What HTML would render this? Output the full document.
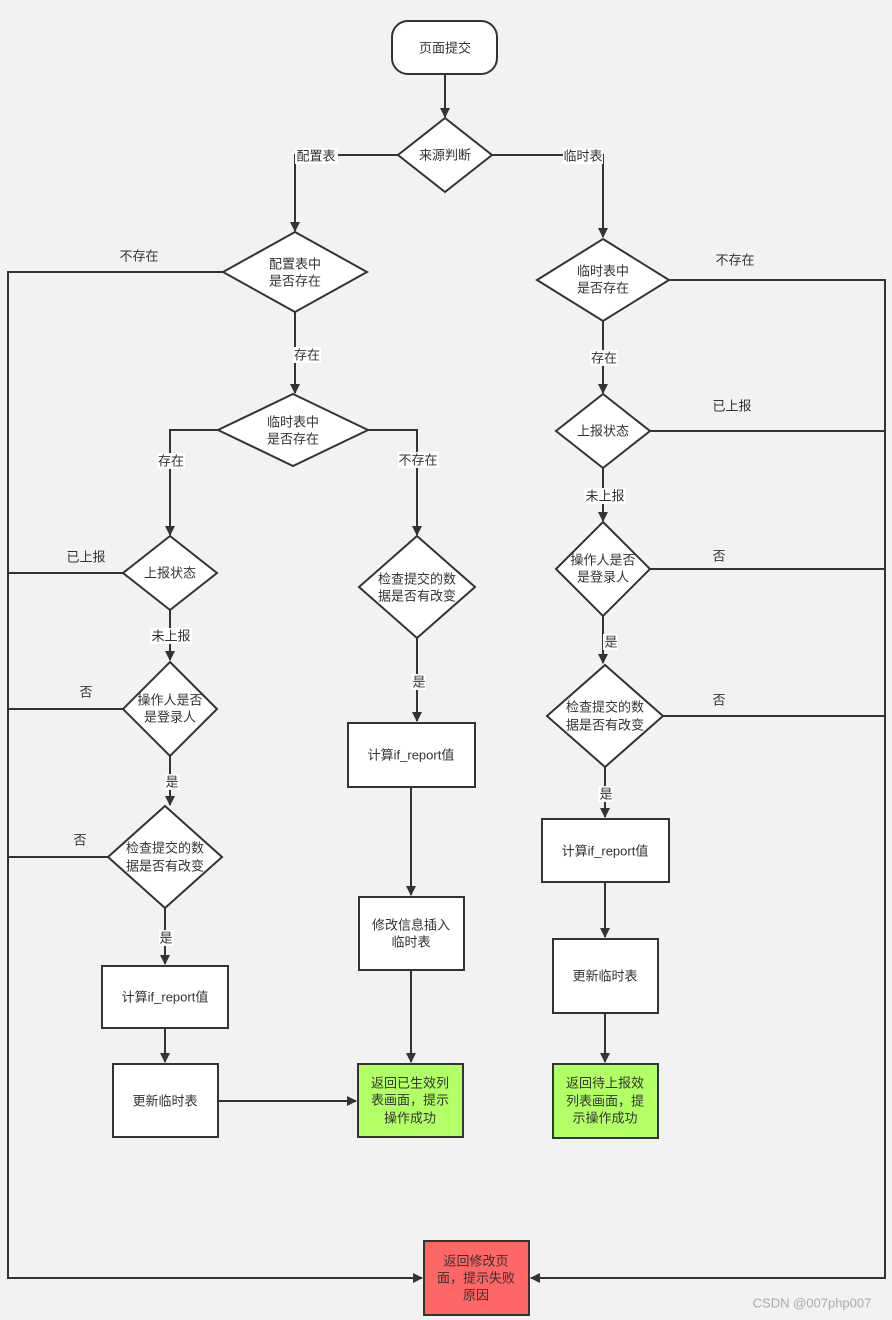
<!DOCTYPE html>
<html><head><meta charset="utf-8"><style>
html,body{margin:0;padding:0;background:#f2f2f2}
svg{display:block}
text{font-family:"Liberation Sans","Noto Sans CJK SC",sans-serif;font-size:13px;fill:#333;text-anchor:middle;dominant-baseline:central}
.s{stroke:#333;stroke-width:2;fill:none}
.n{stroke:#333;stroke-width:2;fill:#fff}
</style></head><body>
<svg width="892" height="1320" viewBox="0 0 892 1320" xmlns="http://www.w3.org/2000/svg">
<defs><marker id="a" markerWidth="10" markerHeight="10" refX="9" refY="5" orient="auto" markerUnits="userSpaceOnUse"><path d="M0,0L10,5L0,10z" fill="#333"/></marker></defs>
<rect x="0" y="0" width="892" height="1320" fill="#f2f2f2"/>
<!-- connectors -->
<g class="s">
<path d="M445,74V117" marker-end="url(#a)"/>
<path d="M398,155H295V231" marker-end="url(#a)"/>
<path d="M492,155H603V237" marker-end="url(#a)"/>
<path d="M223,272H8V1278H422" marker-end="url(#a)"/>
<path d="M295,312V393" marker-end="url(#a)"/>
<path d="M218,430H170V535" marker-end="url(#a)"/>
<path d="M368,430H417V535" marker-end="url(#a)"/>
<path d="M123,573H8"/>
<path d="M170,610V660" marker-end="url(#a)"/>
<path d="M123,709H8"/>
<path d="M170,756V805" marker-end="url(#a)"/>
<path d="M108,857H8"/>
<path d="M165,908V964" marker-end="url(#a)"/>
<path d="M165,1028V1062" marker-end="url(#a)"/>
<path d="M218,1101H356" marker-end="url(#a)"/>
<path d="M417,638V721" marker-end="url(#a)"/>
<path d="M411,787V895" marker-end="url(#a)"/>
<path d="M411,970V1062" marker-end="url(#a)"/>
<path d="M669,280H885V1278H531" marker-end="url(#a)"/>
<path d="M603,321V393" marker-end="url(#a)"/>
<path d="M650,431H885"/>
<path d="M603,468V521" marker-end="url(#a)"/>
<path d="M650,569H885"/>
<path d="M603,616V663" marker-end="url(#a)"/>
<path d="M663,716H885"/>
<path d="M605,767V817" marker-end="url(#a)"/>
<path d="M605,882V937" marker-end="url(#a)"/>
<path d="M605,1013V1062" marker-end="url(#a)"/>
</g>
<!-- nodes -->
<rect class="n" x="392" y="21" width="105" height="53" rx="16"/>
<text x="445" y="48">页面提交</text>
<path class="n" d="M445,118L492,155L445,192L398,155z"/><text x="445" y="155">来源判断</text>
<path class="n" d="M295,232L367,272L295,312L223,272z"/><text x="295" y="264">配置表中</text><text x="295" y="281">是否存在</text>
<path class="n" d="M293,394L368,430L293,466L218,430z"/><text x="293" y="422">临时表中</text><text x="293" y="439">是否存在</text>
<path class="n" d="M170,536L217,573L170,610L123,573z"/><text x="170" y="573">上报状态</text>
<path class="n" d="M170,662L217,709L170,756L123,709z"/><text x="170" y="700">操作人是否</text><text x="170" y="717">是登录人</text>
<path class="n" d="M165,806L222,857L165,908L108,857z"/><text x="165" y="848">检查提交的数</text><text x="165" y="866">据是否有改变</text>
<rect class="n" x="102" y="966" width="126" height="62"/><text x="165" y="997">计算if_report值</text>
<rect class="n" x="113" y="1064" width="105" height="73"/><text x="165" y="1101">更新临时表</text>
<path class="n" d="M417,536L475,587L417,638L359,587z"/><text x="417" y="579">检查提交的数</text><text x="417" y="596">据是否有改变</text>
<rect class="n" x="348" y="723" width="127" height="64"/><text x="411" y="755">计算if_report值</text>
<rect class="n" x="359" y="897" width="105" height="73"/><text x="411" y="925">修改信息插入</text><text x="411" y="942">临时表</text>
<rect x="358" y="1064" width="105" height="73" fill="#b3ff66" stroke="#333" stroke-width="2"/><text x="410" y="1083">返回已生效列</text><text x="410" y="1100">表画面，提示</text><text x="410" y="1118">操作成功</text>
<path class="n" d="M603,239L669,280L603,321L537,280z"/><text x="603" y="271">临时表中</text><text x="603" y="288">是否存在</text>
<path class="n" d="M603,394L650,431L603,468L556,431z"/><text x="603" y="431">上报状态</text>
<path class="n" d="M603,522L650,569L603,616L556,569z"/><text x="603" y="560">操作人是否</text><text x="603" y="577">是登录人</text>
<path class="n" d="M605,665L663,716L605,767L547,716z"/><text x="605" y="707">检查提交的数</text><text x="605" y="725">据是否有改变</text>
<rect class="n" x="542" y="819" width="127" height="63"/><text x="605" y="851">计算if_report值</text>
<rect class="n" x="553" y="939" width="105" height="74"/><text x="605" y="976">更新临时表</text>
<rect x="553" y="1064" width="105" height="74" fill="#b3ff66" stroke="#333" stroke-width="2"/><text x="605" y="1083">返回待上报效</text><text x="605" y="1101">列表画面，提</text><text x="605" y="1118">示操作成功</text>
<rect x="424" y="1241" width="105" height="74" fill="#ff6666" stroke="#333" stroke-width="2"/><text x="476" y="1261">返回修改页</text><text x="476" y="1278">面，提示失败</text><text x="476" y="1295">原因</text>
<!-- labels -->
<g>
<rect x="295" y="148" width="43" height="16" fill="#fff"/><text x="316" y="156">配置表</text>
<rect x="563" y="148" width="40" height="16" fill="#fff"/><text x="583" y="156">临时表</text>
<text x="139" y="256">不存在</text>
<rect x="293" y="347" width="28" height="16" fill="#fff"/><text x="307" y="355">存在</text>
<rect x="157" y="453" width="28" height="16" fill="#fff"/><text x="171" y="461">存在</text>
<rect x="398" y="452" width="41" height="16" fill="#fff"/><text x="418" y="460">不存在</text>
<text x="86" y="557">已上报</text>
<rect x="150" y="628" width="42" height="16" fill="#fff"/><text x="171" y="636">未上报</text>
<text x="86" y="692">否</text>
<rect x="165" y="774" width="15" height="16" fill="#fff"/><text x="172" y="782">是</text>
<text x="80" y="840">否</text>
<rect x="159" y="930" width="15" height="16" fill="#fff"/><text x="166" y="938">是</text>
<rect x="411" y="674" width="15" height="16" fill="#fff"/><text x="419" y="682">是</text>
<text x="735" y="260">不存在</text>
<rect x="590" y="350" width="28" height="16" fill="#fff"/><text x="604" y="358">存在</text>
<text x="732" y="406">已上报</text>
<rect x="584" y="488" width="42" height="16" fill="#fff"/><text x="605" y="496">未上报</text>
<text x="719" y="556">否</text>
<rect x="603" y="634" width="15" height="16" fill="#fff"/><text x="611" y="642">是</text>
<text x="719" y="700">否</text>
<rect x="598" y="786" width="15" height="16" fill="#fff"/><text x="606" y="794">是</text>
</g>
<text x="812" y="1303" style="fill:#aaa;font-size:13px">CSDN @007php007</text>
</svg>
</body></html>
